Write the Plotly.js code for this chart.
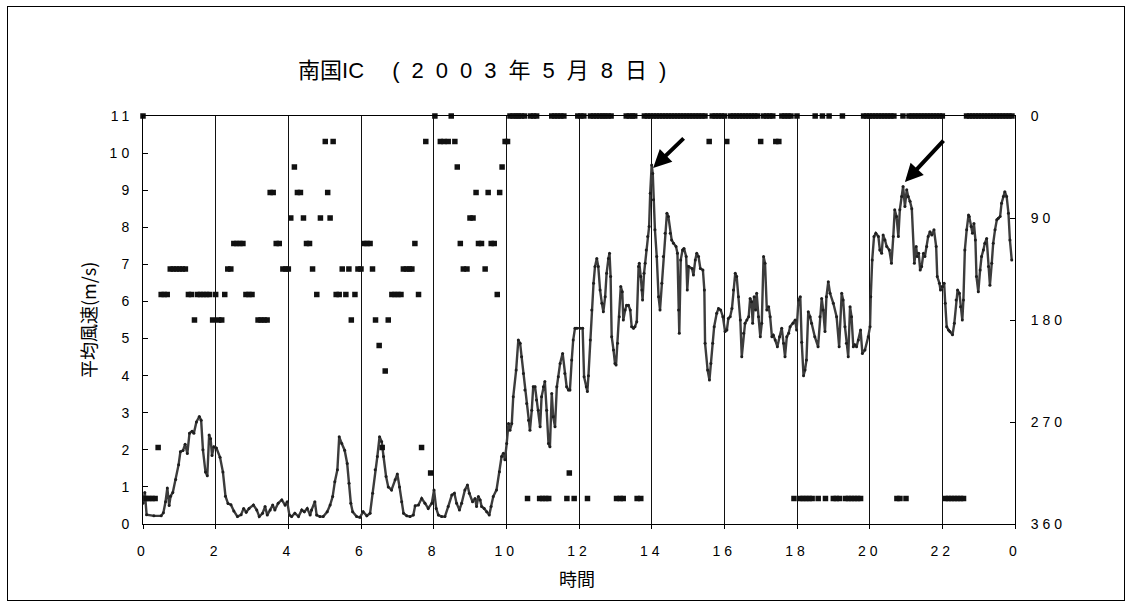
<!DOCTYPE html>
<html>
<head>
<meta charset="utf-8">
<script src="https://cdn.plot.ly/plotly-3.0.1.min.js"></script>
<style>
html, body { margin: 0; padding: 0; background: #fff; }
#chart { width: 1132px; height: 606px; }
#frame { position: absolute; left: 7px; top: 6px; width: 1116px; height: 593px; border: 1px solid #000; pointer-events: none; }
.xtick text, .ytick text, .y2tick text { letter-spacing: 4px; }
</style>
</head>
<body>
<div id="chart"></div>
<div id="frame"></div>
<script>
// mean wind speed (m/s), time in hours
const speedHour = [
0.00,0.05,0.10,0.30,0.50,0.56,0.62,0.67,0.72,0.76,0.82,0.90,0.98,1.03,1.10,1.16,1.22,1.28,1.35,1.40,
1.47,1.55,1.60,1.65,1.72,1.77,1.82,1.86,1.90,1.95,2.02,2.12,2.20,2.27,2.34,2.42,2.50,2.60,2.70,2.77,
2.84,2.92,3.04,3.13,3.20,3.29,3.36,3.42,3.50,3.57,3.63,3.72,3.82,3.91,3.97,4.03,4.09,4.18,4.28,4.37,
4.44,4.52,4.60,4.64,4.73,4.78,4.87,4.96,5.07,5.15,5.22,5.28,5.35,5.40,5.47,5.55,5.62,5.67,5.72,5.77,
5.88,5.97,6.06,6.16,6.25,6.32,6.39,6.45,6.51,6.57,6.62,6.69,6.75,6.84,6.94,7.00,7.06,7.12,7.17,7.26,
7.35,7.44,7.49,7.58,7.67,7.76,7.85,7.95,8.01,8.07,8.13,8.22,8.31,8.40,8.50,8.57,8.63,8.71,8.77,8.86,
8.93,8.98,9.07,9.14,9.18,9.23,9.28,9.32,9.39,9.46,9.53,9.58,9.64,9.73,9.81,9.87,9.92,9.96,10.01,10.06,
10.10,10.15,10.19,10.27,10.33,10.38,10.42,10.47,10.51,10.56,10.61,10.65,10.70,10.74,10.79,10.83,10.88,10.93,10.97,11.02,
11.06,11.11,11.16,11.20,11.25,11.29,11.34,11.39,11.43,11.48,11.55,11.61,11.66,11.71,11.75,11.80,11.84,11.89,11.94,12.03,
12.10,12.14,12.20,12.23,12.26,12.31,12.35,12.40,12.44,12.49,12.53,12.58,12.63,12.67,12.72,12.76,12.81,12.84,12.87,12.90,
12.95,12.99,13.02,13.06,13.11,13.15,13.19,13.22,13.27,13.31,13.36,13.41,13.45,13.50,13.54,13.59,13.64,13.66,13.70,13.73,
13.75,13.79,13.82,13.85,13.89,13.93,13.96,14.00,14.03,14.05,14.09,14.14,14.19,14.23,14.28,14.32,14.37,14.42,14.46,14.51,
14.55,14.60,14.67,14.71,14.74,14.76,14.80,14.85,14.89,14.95,14.98,15.02,15.11,15.15,15.20,15.24,15.29,15.34,15.41,15.45,
15.47,15.54,15.59,15.63,15.68,15.72,15.79,15.84,15.90,15.96,16.02,16.07,16.11,16.16,16.21,16.25,16.30,16.34,16.39,16.44,
16.48,16.53,16.57,16.62,16.67,16.71,16.75,16.78,16.82,16.86,16.89,16.94,16.99,17.03,17.08,17.12,17.17,17.22,17.26,17.31,
17.35,17.40,17.46,17.52,17.58,17.63,17.67,17.72,17.77,17.81,17.89,17.95,17.99,18.04,18.09,18.13,18.18,18.22,18.26,18.31,
18.36,18.40,18.49,18.58,18.63,18.68,18.72,18.77,18.81,18.86,18.91,19.00,19.09,19.16,19.23,19.27,19.32,19.36,19.41,19.46,
19.50,19.55,19.59,19.64,19.69,19.75,19.80,19.87,19.96,20.01,20.03,20.07,20.12,20.17,20.24,20.28,20.33,20.37,20.42,20.47,
20.54,20.60,20.65,20.69,20.74,20.79,20.83,20.88,20.92,20.97,21.02,21.06,21.11,21.16,21.23,21.28,21.31,21.35,21.39,21.43,
21.48,21.52,21.57,21.61,21.66,21.71,21.77,21.83,21.86,21.92,21.95,22.00,22.05,22.08,22.12,22.17,22.21,22.28,22.33,22.38,
22.42,22.47,22.50,22.55,22.58,22.62,22.67,22.72,22.74,22.79,22.83,22.87,22.91,22.94,22.99,23.04,23.08,23.13,23.17,23.22,
23.27,23.31,23.36,23.40,23.45,23.50,23.54,23.59,23.63,23.68,23.72,23.77,23.82,23.86,23.91
];
const speedValue = [
0.56,0.85,0.25,0.22,0.22,0.30,0.60,0.97,0.50,0.75,0.85,1.20,1.60,1.95,1.98,2.15,1.90,2.45,2.50,2.45,
2.75,2.90,2.80,2.00,1.40,1.30,2.40,2.30,1.85,2.08,2.05,1.80,1.40,0.75,0.55,0.52,0.35,0.20,0.25,0.42,
0.32,0.42,0.51,0.38,0.20,0.29,0.47,0.24,0.38,0.51,0.38,0.56,0.65,0.51,0.60,0.24,0.20,0.29,0.20,0.38,
0.33,0.42,0.24,0.38,0.60,0.24,0.20,0.20,0.33,0.51,0.74,1.14,1.46,2.35,2.17,1.99,1.63,1.10,0.56,0.33,
0.20,0.18,0.33,0.22,0.29,0.83,1.46,1.82,2.35,2.22,1.82,1.28,1.00,0.92,1.19,1.35,1.00,0.60,0.29,0.22,
0.20,0.24,0.49,0.51,0.69,0.56,0.42,0.56,0.92,0.42,0.24,0.20,0.20,0.47,0.78,0.83,0.56,0.38,0.56,0.92,
1.05,0.83,0.60,0.69,0.47,0.74,0.65,0.47,0.42,0.33,0.24,0.47,0.74,0.92,1.41,1.82,1.91,1.73,2.17,2.71,
2.53,2.71,3.43,4.15,4.96,4.87,4.51,4.06,3.61,3.25,2.80,2.53,3.07,3.70,3.70,3.34,3.07,2.62,3.43,3.70,
3.84,3.07,2.17,2.08,3.52,2.89,2.62,3.70,3.97,4.33,4.60,4.06,3.70,3.61,3.61,4.42,4.96,5.28,5.28,5.28,
5.28,3.97,3.70,3.57,4.00,4.96,5.77,6.49,6.94,7.16,6.94,6.31,5.95,5.72,6.13,6.76,7.16,7.30,6.67,5.05,
4.69,4.33,4.29,4.87,5.59,6.40,6.26,5.50,5.77,5.90,5.90,5.77,5.32,5.28,5.32,5.45,6.94,7.03,6.67,6.31,
6.04,6.76,7.03,7.39,7.75,8.02,8.92,9.68,9.45,8.74,7.93,7.21,6.13,5.77,6.49,7.21,7.84,8.38,8.29,7.84,
7.66,7.57,7.48,7.30,5.77,5.14,7.12,7.39,7.43,7.21,6.31,6.94,6.89,6.71,7.12,7.30,7.21,6.89,6.85,6.31,
4.87,4.15,3.88,4.33,4.87,5.32,5.68,5.81,5.77,5.59,5.19,5.23,5.54,5.59,5.81,6.31,6.76,6.67,6.13,5.50,
4.51,5.14,5.41,5.50,5.59,6.08,5.99,5.41,6.13,5.77,6.22,5.59,5.05,5.41,7.21,7.03,5.77,5.86,5.59,5.05,
5.09,4.96,4.78,5.05,5.28,4.87,4.51,5.05,5.14,5.32,5.41,5.50,5.23,6.04,6.13,4.90,4.00,4.15,4.42,5.72,
5.59,5.41,5.05,4.78,5.59,6.08,5.77,5.19,6.13,6.53,6.22,5.95,5.59,4.78,6.22,6.04,5.32,4.87,4.51,5.86,
5.59,4.78,4.83,4.78,4.96,5.23,4.60,4.69,5.05,5.32,6.13,7.12,7.75,7.84,7.75,7.39,7.30,7.79,7.66,7.48,
7.39,7.03,7.75,8.47,8.29,7.75,8.47,8.83,9.10,8.56,9.01,8.83,8.70,8.50,7.03,7.48,7.21,7.30,6.85,6.94,
7.30,7.21,7.48,7.75,7.88,7.79,7.93,7.48,6.67,6.49,6.31,6.40,6.49,5.95,5.32,5.23,5.19,5.10,5.41,6.04,
6.31,6.22,5.86,5.50,6.04,7.39,7.93,8.33,8.29,8.02,7.84,8.10,7.66,6.67,6.26,6.85,7.21,7.39,7.57,7.70,
6.94,6.44,7.03,7.57,7.93,8.20,8.24,8.29,8.65,8.83,8.96,8.83,8.38,7.66,7.12
];

// wind direction (degrees, 16 points), time in minutes after midnight
const dirMinute = [
0,5,10,15,20,25,30,35,40,45,50,55,60,65,70,75,80,85,90,95,
100,105,110,115,120,125,130,135,140,145,150,155,160,165,170,175,180,190,195,200,
205,210,215,220,225,231,236,240,244,250,255,260,265,270,275,280,287,293,301,305,
309,314,319,324,329,335,340,344,350,355,360,365,370,375,379,384,390,395,400,405,
411,416,421,426,430,435,440,444,449,455,460,467,475,482,491,497,504,509,515,519,
524,529,535,540,545,550,554,559,565,570,575,580,585,589,593,598,602,606,611,616,
620,625,630,635,640,645,650,655,660,665,670,675,680,685,690,695,700,704,712,718,
723,728,734,739,744,749,754,759,763,768,773,782,788,793,798,803,808,812,816,822,
828,833,838,843,848,853,858,863,868,873,878,883,888,893,898,903,908,913,918,923,
928,935,940,945,950,955,960,964,970,975,980,985,990,995,1000,1005,1010,1015,1020,1025,
1030,1035,1040,1045,1050,1055,1060,1065,1070,1075,1080,1085,1090,1095,1100,1105,1110,1115,1122,1127,
1133,1140,1145,1150,1155,1160,1165,1170,1175,1180,1185,1190,1195,1200,1205,1210,1215,1220,1225,1230,
1235,1240,1245,1250,1255,1260,1265,1270,1275,1280,1285,1290,1295,1300,1305,1310,1315,1320,1325,1330,
1335,1340,1345,1350,1355,1360,1365,1370,1375,1380,1385,1390,1395,1400,1405,1410,1415,1420,1425,1430,
1435
];
const dirDeg = [
0,337.5,337.5,337.5,337.5,292.5,157.5,157.5,157.5,135,135,135,135,135,135,157.5,157.5,180,157.5,157.5,
157.5,157.5,157.5,180,157.5,180,180,157.5,135,135,112.5,112.5,112.5,112.5,157.5,157.5,157.5,180,180,180,
180,67.5,67.5,112.5,112.5,135,135,135,90,45,67.5,67.5,90,112.5,112.5,135,157.5,90,22.5,67.5,
90,22.5,157.5,157.5,135,157.5,135,180,157.5,135,135,112.5,112.5,112.5,135,180,202.5,292.5,225,180,
157.5,157.5,157.5,157.5,135,135,135,135,112.5,157.5,292.5,22.5,315,0,22.5,22.5,22.5,0,22.5,45,
112.5,135,135,90,90,67.5,112.5,112.5,135,67.5,112.5,112.5,157.5,67.5,45,22.5,22.5,0,0,0,
0,0,0,337.5,0,0,0,337.5,337.5,337.5,337.5,0,0,0,0,0,337.5,315,337.5,0,
0,0,337.5,0,0,0,0,0,0,0,0,337.5,337.5,337.5,0,0,0,0,337.5,337.5,
0,0,0,0,0,0,0,0,0,0,0,0,0,0,0,0,0,0,0,0,
0,22.5,0,0,0,0,0,22.5,0,0,0,0,0,0,0,0,0,0,22.5,0,
0,0,0,22.5,22.5,0,0,0,0,337.5,0,337.5,337.5,337.5,337.5,337.5,0,337.5,0,337.5,
0,337.5,337.5,337.5,0,337.5,337.5,337.5,337.5,337.5,337.5,0,0,0,0,0,0,0,0,0,
0,0,337.5,337.5,0,337.5,0,0,0,0,0,0,0,0,0,0,0,0,337.5,337.5,
337.5,337.5,337.5,337.5,337.5,0,0,0,0,0,0,0,0,0,0,0,0,0,0,0,
0
];

const hourTicks = [0,2,4,6,8,10,12,14,16,18,20,22,24];
const hourTickText = ['0','2','4','6','8','10','12','14','16','18','20','22','0'];
const dirTicks = [0,90,180,270,360];

const FONT = '"Liberation Sans", Arial, "Noto Sans CJK JP", sans-serif';
const JFONT = '"Noto Sans CJK JP", "Liberation Sans", sans-serif';

const traces = [
  {
    x: dirMinute.map(m => m / 60), y: dirDeg, yaxis: 'y2',
    type: 'scatter', mode: 'markers', cliponaxis: false,
    marker: {symbol: 'square', size: 5.5, color: '#111', line: {width: 0}},
    showlegend: false
  },
  {
    x: speedHour, y: speedValue, yaxis: 'y',
    type: 'scatter', mode: 'lines+markers',
    line: {color: '#3c3c3c', width: 2.4},
    marker: {size: 3, color: '#1e1e1e'},
    showlegend: false
  }
];

const layout = {
  width: 1132, height: 606,
  margin: {l: 143, r: 117, t: 116, b: 82},
  paper_bgcolor: '#fff', plot_bgcolor: '#fff',
  font: {family: FONT, size: 14, color: '#000'},
  showlegend: false,
  title: {
    text: '南国IC<span style="letter-spacing:0px">　 </span><span style="letter-spacing:12px">(2003年5月8日</span>)',
    font: {family: FONT, size: 22, color: '#000'},
    xref: 'container', x: 0.426, xanchor: 'center',
    yref: 'container', y: 0.884, yanchor: 'middle'
  },
  xaxis: {
    range: [0, 24], tickmode: 'array', tickvals: hourTicks, ticktext: hourTickText,
    showgrid: true, gridcolor: '#111', gridwidth: 1,
    showline: true, linecolor: '#000', linewidth: 1, mirror: true,
    ticks: 'outside', ticklen: 4, tickcolor: '#000',
    zeroline: false, ticklabelstandoff: 10,
    tickfont: {family: FONT, size: 14, color: '#000'}
  },
  yaxis: {
    range: [0, 11], tickmode: 'linear', tick0: 0, dtick: 1,
    showgrid: false, zeroline: false,
    showline: true, linecolor: '#000', linewidth: 1,
    ticks: 'inside', ticklen: 5, tickcolor: '#000',
    ticklabelstandoff: 6,
    tickfont: {family: FONT, size: 14, color: '#000'}
  },
  yaxis2: {
    range: [360, 0], tickmode: 'array', tickvals: dirTicks,
    overlaying: 'y', side: 'right',
    showgrid: false, zeroline: false,
    showline: true, linecolor: '#000', linewidth: 1,
    ticks: 'inside', ticklen: 5, tickcolor: '#000',
    ticklabelstandoff: 12,
    tickfont: {family: FONT, size: 14, color: '#000'}
  },
  annotations: [
    {text: '平均風速(m/s)', xref: 'paper', yref: 'paper', x: -0.063, y: 0.5,
     textangle: -90, showarrow: false, xanchor: 'center', yanchor: 'middle',
     font: {family: JFONT, size: 18, color: '#000'}},
    {text: '時間', xref: 'paper', yref: 'paper', x: 0.498, y: -0.132,
     showarrow: false, xanchor: 'center', yanchor: 'middle',
     font: {family: JFONT, size: 18, color: '#000'}},
    {text: '', xref: 'x', yref: 'y', x: 14.04, y: 9.6, ax: 32, ay: -31,
     showarrow: true, arrowhead: 2, arrowsize: 0.9, arrowwidth: 4, arrowcolor: '#000', standoff: 0},
    {text: '', xref: 'x', yref: 'y', x: 20.97, y: 9.22, ax: 40, ay: -43,
     showarrow: true, arrowhead: 2, arrowsize: 0.9, arrowwidth: 4, arrowcolor: '#000', standoff: 0}
  ]
};

Plotly.newPlot('chart', traces, layout, {displayModeBar: false, staticPlot: true});
</script>
</body>
</html>
